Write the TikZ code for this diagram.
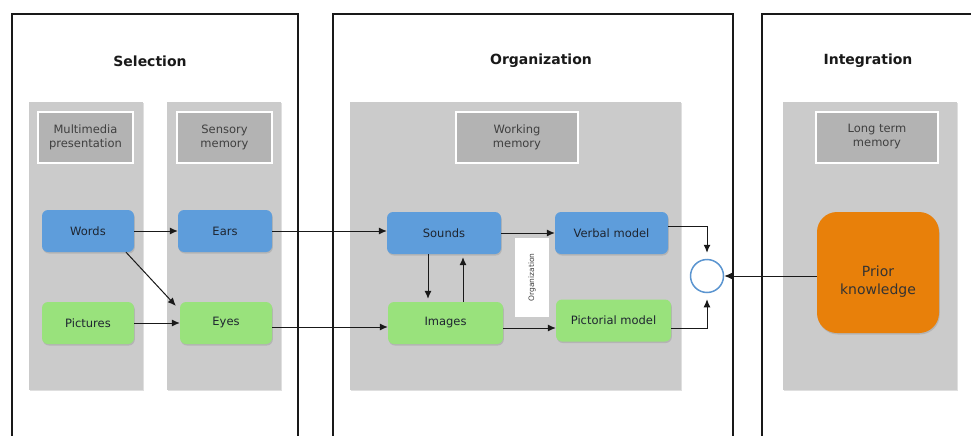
\documentclass[tikz,border=0pt]{standalone}
\usepackage{fontspec}
\setmainfont{DejaVu Sans}
\usetikzlibrary{arrows.meta,shadows,calc}
\definecolor{panelgray}{HTML}{CBCBCB}
\definecolor{headgray}{HTML}{B3B3B3}
\definecolor{bluebox}{HTML}{5E9DDB}
\definecolor{greenbox}{HTML}{99E27C}
\definecolor{orangebox}{HTML}{E8800A}
\definecolor{txtdark}{HTML}{1E2530}
\definecolor{circblue}{HTML}{5B95D0}
\tikzset{
  outerbox/.style={draw=black!90, line width=1.5pt},
  panel/.style={fill=panelgray, drop shadow={shadow xshift=0.8pt,shadow yshift=-1.2pt,opacity=0.25}},
  headbox/.style={rectangle, fill=headgray, draw=white, line width=2pt, minimum width=95pt, minimum height=51pt, align=center, font=\fontsize{11.5}{14}\selectfont, text=black!75, drop shadow={shadow xshift=0.8pt,shadow yshift=-1.2pt,opacity=0.25}},
  procbox/.style={rectangle, rounded corners=6pt, minimum height=42pt, align=center, font=\fontsize{11.5}{13}\selectfont, text=txtdark, drop shadow={shadow xshift=0.8pt,shadow yshift=-1.5pt,opacity=0.3}},
  bluenode/.style={procbox, fill=bluebox},
  greennode/.style={procbox, fill=greenbox},
  titletxt/.style={font=\bfseries\fontsize{14}{16}\selectfont, text=black!90},
  arr/.style={-{Latex[length=8pt,width=7pt]}, line width=1pt, draw=black!90},
}
\begin{document}
\begin{tikzpicture}[x=1pt,y=-1pt]
\useasboundingbox (0,0) rectangle (971,436);
\clip (0,0) rectangle (971,436);
\fill[white] (0,0) rectangle (971,436);
% outer boxes
\draw[outerbox] (12,460) -- (12,14) -- (298,14) -- (298,460);
\draw[outerbox] (333,460) -- (333,14) -- (733,14) -- (733,460);
\draw[outerbox] (762,460) -- (762,14) -- (1000,14);
% titles
\node[titletxt] (tsel) at (150,61) {Selection};
\node[titletxt] (torg) at (541,61) {Organization};
\node[titletxt] (tint) at (868,61) {Integration};
% panels
\path[panel] (29,102) rectangle (143,390);
\path[panel] (167,102) rectangle (281,390);
\path[panel] (350,102) rectangle (681,390);
\path[panel] (783,102) rectangle (957,390);
% headers
\node[headbox] (hmm) at (85.5,137) {Multimedia\\presentation};
\node[headbox] (hsm) at (224.5,137) {Sensory\\memory};
\node[headbox, minimum width=122pt] (hwm) at (517,137) {Working\\memory};
\node[headbox, minimum width=122pt] (hlt) at (877,137) {Long term\\memory};
% process nodes
\node[bluenode, minimum width=92pt] (words) at (88,231) {Words};
\node[bluenode, minimum width=94pt] (ears) at (225,231) {Ears};
\node[greennode, minimum width=92pt] (pictures) at (88,323) {Pictures};
\node[greennode, minimum width=92pt] (eyes) at (226,323) {Eyes};
\node[bluenode, minimum width=114pt] (sounds) at (444,233) {Sounds};
\node[greennode, minimum width=115pt] (images) at (445.5,323) {Images};
\node[bluenode, minimum width=113pt] (verbal) at (611.5,233) {Verbal model};
\node[greennode, minimum width=115pt] (pictorial) at (613.5,320.5) {Pictorial model};
\node[rectangle, fill=white, minimum width=34pt, minimum height=79pt, inner sep=0pt] (orglab) at (532,277.5) {};
\node[rotate=90, font=\fontsize{7.5}{9}\selectfont, text=black!75] (orgtxt) at (orglab) {Organization};
\node[circle, fill=white, draw=circblue, line width=1.5pt, minimum size=33pt, inner sep=0pt] (circ) at (707,276) {};
\node[rectangle, rounded corners=20pt, fill=orangebox, minimum width=122pt, minimum height=121pt, drop shadow={shadow xshift=0.8pt,shadow yshift=-1.5pt,opacity=0.3}] (prior) at (878,272.5) {};
\node[align=center, font=\fontsize{14}{18}\selectfont, text=black!80] (priortxt) at (878,282) {Prior\\knowledge};
% connectors
\draw[arr] (words.east) -- (ears.west);
\draw[arr] ([xshift=38pt]words.south) -- ([xshift=-4pt,yshift=-4pt]eyes.north west);
\draw[arr] (pictures.east) -- (eyes.west);
\draw[arr] (ears.east) -- (ears.east -| sounds.west);
\draw[arr] ([yshift=-4pt]eyes.east) -- ([yshift=-4pt]eyes.east -| images.west);
\draw[arr, shorten >=3pt] ([xshift=-16pt]sounds.south) -- ([xshift=-16pt]sounds.south |- images.north);
\draw[arr, shorten >=3pt] ([xshift=17.5pt]images.north) -- ([xshift=17.5pt]images.north |- sounds.south);
\draw[arr] (sounds.east) -- (sounds.east -| verbal.west);
\draw[arr] ([yshift=-5pt]images.east) -- ([yshift=-5pt]images.east -| pictorial.west);
\draw[arr, shorten >=6pt] ([yshift=7pt]verbal.east) -| (circ.north);
\draw[arr, shorten >=6pt] ([yshift=-7.5pt]pictorial.east) -| (circ.south);
\draw[arr] (prior.west |- circ) -- (circ.east);
\end{tikzpicture}
\end{document}
